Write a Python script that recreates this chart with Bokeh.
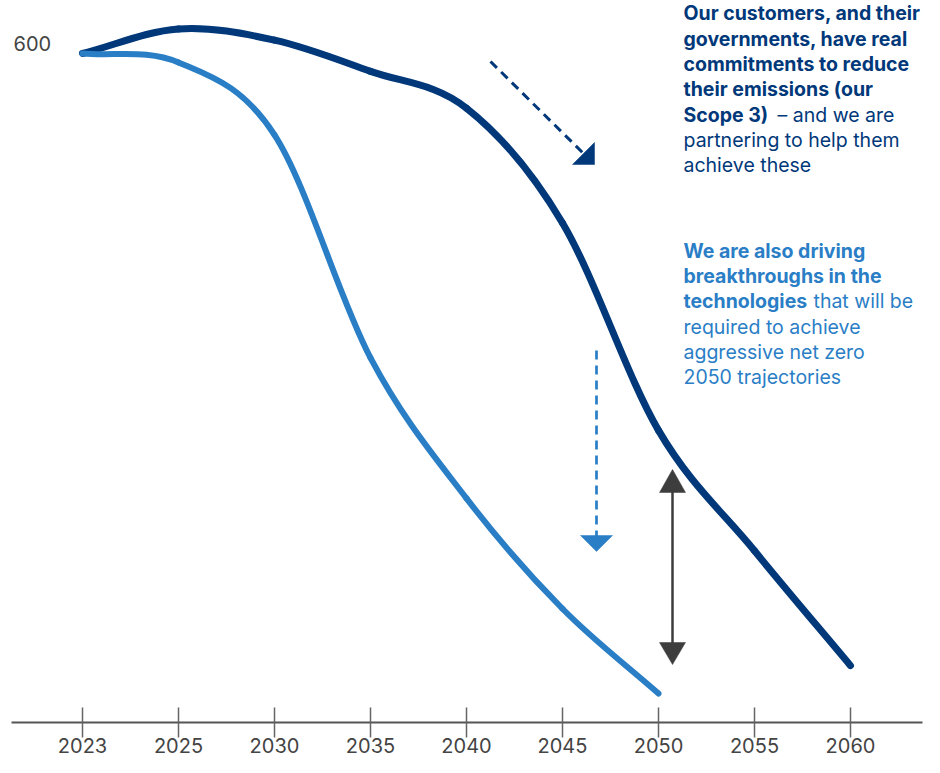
from bokeh.plotting import figure
from bokeh.models import Range1d, FixedTicker, Label
from bokeh.embed import file_html
from bokeh.resources import INLINE

# ---------------- data ----------------
years = ["2023", "2025", "2030", "2035", "2040", "2045", "2050", "2055", "2060"]
customers_path = [600, 622, 612, 584, 551, 448, 262, 154, 51]
technology_path = [600, 592, 527, 327, 201, 102, 26]
y_ticks = [600]

text_customers = [
    [("Our customers, and their", "bold")],
    [("governments, have real", "bold")],
    [("commitments to reduce", "bold")],
    [("their emissions (our", "bold")],
    [("Scope 3)", "bold"), ("\u2013 and we are", "normal")],
    [("partnering to help them", "normal")],
    [("achieve these", "normal")],
]
text_technology = [
    [("We are also driving", "bold")],
    [("breakthroughs in the", "bold")],
    [("technologies", "bold"), ("that will be", "normal")],
    [("required to achieve", "normal")],
    [("aggressive net zero", "normal")],
    [("2050 trajectories", "normal")],
]

# ---------------- styling / layout ----------------
NAVY = "#00387a"
BLUE = "#2a7ec6"
DARK = "#3d3d3d"
AXIS = "#555555"
FONT = "Inter"

W, H = 924, 757
X0, PX = 82, 96.0        # pixel x of first category, px per category
Y0, S = 722, 1.115       # pixel y of value 0, px per unit
TXT_DY = 8               # label baseline correction (px)


def xd(px):
    return (px - X0) / PX


def yd(py):
    return (Y0 - py) / S


p = figure(width=W, height=H, output_backend="svg", toolbar_location=None,
           x_range=Range1d(xd(11), xd(922)), y_range=Range1d(yd(722), yd(0)),
           y_axis_location=None, min_border_left=11, min_border_right=2,
           min_border_top=0, min_border_bottom=35)
p.outline_line_color = None
p.xgrid.grid_line_color = None
p.ygrid.grid_line_color = None
p.background_fill_color = "white"
p.border_fill_color = "white"

ax = p.xaxis[0]
ax.ticker = FixedTicker(ticks=list(range(len(years))))
ax.major_label_overrides = {i: y for i, y in enumerate(years)}
ax.minor_tick_line_color = None
ax.axis_line_color = AXIS
ax.axis_line_width = 2
ax.major_tick_line_color = "#666666"
ax.major_tick_line_width = 1.5
ax.major_tick_in = 15
ax.major_tick_out = 15
ax.major_label_standoff = 0
ax.major_label_text_font = FONT
ax.major_label_text_font_size = "20px"
ax.major_label_text_color = "#444444"


def smooth_segments(vals, c=1.0):
    xs = list(range(len(vals)))
    n = len(vals)

    def tan(k):
        if k == 0:
            return (xs[1] - xs[0], vals[1] - vals[0])
        if k == n - 1:
            return (xs[-1] - xs[-2], vals[-1] - vals[-2])
        return ((xs[k + 1] - xs[k - 1]) / 2, c * (vals[k + 1] - vals[k - 1]) / 2)

    d = dict(x0=[], y0=[], x1=[], y1=[], cx0=[], cy0=[], cx1=[], cy1=[])
    for i in range(n - 1):
        t0, t1 = tan(i), tan(i + 1)
        d["x0"].append(xs[i]); d["y0"].append(vals[i])
        d["x1"].append(xs[i + 1]); d["y1"].append(vals[i + 1])
        d["cx0"].append(xs[i] + t0[0] / 3); d["cy0"].append(vals[i] + t0[1] / 3)
        d["cx1"].append(xs[i + 1] - t1[0] / 3); d["cy1"].append(vals[i + 1] - t1[1] / 3)
    return d


p.bezier(line_color=NAVY, line_width=7, line_cap="round",
         **smooth_segments(customers_path, 1.0))
p.bezier(line_color=BLUE, line_width=6, line_cap="round",
         **smooth_segments(technology_path, 1.0))

# y tick label
for v in y_ticks:
    p.add_layout(Label(x=xd(13), y=v + yd(51 - TXT_DY) - yd(53), text=str(v),
                       text_font=FONT, text_font_size="20px", text_color="#444444",
                       text_baseline="alphabetic", text_align="left"))

# dashed navy arrow
p.line([xd(490), xd(584)], [yd(61), yd(154)], line_color=NAVY, line_width=3,
       line_dash="9 6")
p.patch([xd(594), xd(594), xd(572)], [yd(142), yd(164), yd(164)],
        fill_color=NAVY, line_color=NAVY, line_width=0.5)

# dashed light-blue arrow
p.line([xd(596), xd(596)], [yd(350), yd(536)], line_color=BLUE, line_width=2.7,
       line_dash="9 6")
p.patch([xd(580), xd(612), xd(596)], [yd(535), yd(535), yd(551)],
        fill_color=BLUE, line_color=BLUE, line_width=0.5)

# grey double arrow
p.line([xd(672), xd(672)], [yd(490), yd(644)], line_color=DARK, line_width=2.5)
p.patch([xd(659), xd(685), xd(672)], [yd(492), yd(492), yd(469)],
        fill_color=DARK, line_color=DARK, line_width=0.5)
p.patch([xd(659), xd(685), xd(672)], [yd(642), yd(642), yd(664)],
        fill_color=DARK, line_color=DARK, line_width=0.5)

# annotation text blocks
split_x = {"\u2013 and we are": 777, "that will be": 813}


def add_block(lines, baselines, color):
    for line, by in zip(lines, baselines):
        for txt, style in line:
            x = split_x.get(txt, 683)
            p.add_layout(Label(x=xd(x), y=yd(by - TXT_DY), text=txt, text_font=FONT,
                               text_font_size="19.5px", text_font_style=style,
                               text_color=color, text_baseline="alphabetic",
                               text_align="left"))


add_block(text_customers, [20.7 + 25.33 * i for i in range(7)], NAVY)
add_block(text_technology, [258.3 + 25.33 * i for i in range(6)], BLUE)

open("out.html", "w").write(file_html(p, INLINE))
